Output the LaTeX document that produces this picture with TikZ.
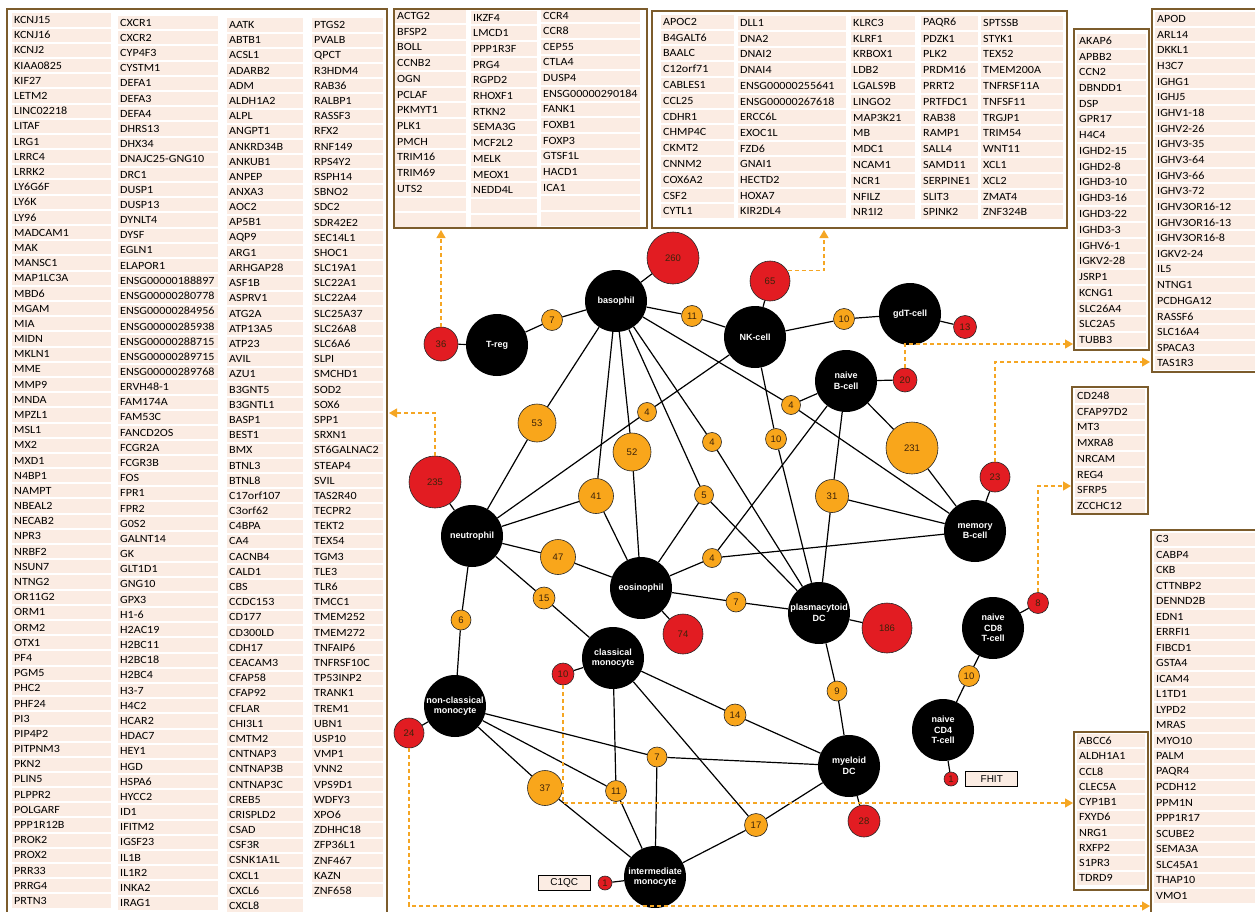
\documentclass[tikz,border=0pt]{standalone}
\usepackage{fontspec}
\setmainfont{Liberation Sans}
\newfontfamily\tabfont{Carlito}[FakeStretch=1.1]
\usetikzlibrary{arrows.meta,positioning}

\definecolor{hubOrange}{RGB}{249,166,27}
\definecolor{uniqRed}{RGB}{226,28,34}
\definecolor{cellPeach}{RGB}{251,236,227}
\definecolor{frameBrown}{RGB}{124,92,44}
\definecolor{linkOrange}{RGB}{245,166,35}
\definecolor{numDark}{RGB}{60,35,10}

% one column of gene cells: name, x left, x right, first y, row step, genes
\newcommand{\genecol}[6]{%
  \foreach \g [count=\i] in {#6} {
    \fill[cellPeach] (#2,{#4+(\i-1)*#5-#5/2+1}) rectangle (#3,{#4+(\i-1)*#5+#5/2-1});
    \node[genetxt] (#1-\i) at (#2,{#4+(\i-1)*#5}) {\g};
  }}

\begin{document}
\begin{tikzpicture}[x=1pt, y=-1pt,
  cellnode/.style={circle, fill=black, text=white, minimum size=62pt, inner sep=0pt,
    align=center, font=\bfseries\fontsize{9}{10.5}\selectfont},
  hubnode/.style={circle, fill=hubOrange, draw=black!85, line width=0.6pt, inner sep=0pt,
    text=numDark, font=\fontsize{9.5}{10}\selectfont},
  uninode/.style={circle, fill=uniqRed, draw=black!85, line width=0.6pt, inner sep=0pt,
    text=numDark, font=\fontsize{9.5}{10}\selectfont},
  edgeline/.style={line width=1.2pt},
  golist/.style={draw=linkOrange, line width=1.2pt, dash pattern=on 4pt off 3pt,
    -{Triangle[length=8pt,width=9pt]}},
  genetxt/.style={anchor=west, inner sep=2pt, font=\tabfont\fontsize{11}{12}\selectfont},
  tableframe/.style={draw=frameBrown, line width=1.8pt},
  genebox/.style={draw=black, line width=0.9pt, fill=cellPeach, minimum width=52pt,
    minimum height=15pt, inner sep=0pt, font=\fontsize{10}{11}\selectfont}]
  \useasboundingbox (0,0) rectangle (1255,912);
  \clip (0,0) rectangle (1255,912);

  % neutrophil genes
  \genecol{neuA}{12}{111}{20}{15.19}{KCNJ15,KCNJ16,KCNJ2,KIAA0825,KIF27,LETM2,LINC02218,LITAF,LRG1,LRRC4,LRRK2,LY6G6F,LY6K,LY96,MADCAM1,MAK,MANSC1,MAP1LC3A,MBD6,MGAM,MIA,MIDN,MKLN1,MME,MMP9,MNDA,MPZL1,MSL1,MX2,MXD1,N4BP1,NAMPT,NBEAL2,NECAB2,NPR3,NRBF2,NSUN7,NTNG2,OR11G2,ORM1,ORM2,OTX1,PF4,PGM5,PHC2,PHF24,PI3,PIP4P2,PITPNM3,PKN2,PLIN5,PLPPR2,POLGARF,PPP1R12B,PROK2,PROX2,PRR33,PRRG4,PRTN3}
  \genecol{neuB}{118}{218}{22.7}{15.18}{CXCR1,CXCR2,CYP4F3,CYSTM1,DEFA1,DEFA3,DEFA4,DHRS13,DHX34,DNAJC25-GNG10,DRC1,DUSP1,DUSP13,DYNLT4,DYSF,EGLN1,ELAPOR1,ENSG00000188897,ENSG00000280778,ENSG00000284956,ENSG00000285938,ENSG00000288715,ENSG00000289715,ENSG00000289768,ERVH48-1,FAM174A,FAM53C,FANCD2OS,FCGR2A,FCGR3B,FOS,FPR1,FPR2,G0S2,GALNT14,GK,GLT1D1,GNG10,GPX3,H1-6,H2AC19,H2BC11,H2BC18,H2BC4,H3-7,H4C2,HCAR2,HDAC7,HEY1,HGD,HSPA6,HYCC2,ID1,IFITM2,IGSF23,IL1B,IL1R2,INKA2,IRAG1}
  \genecol{neuC}{227}{303}{25}{15.19}{AATK,ABTB1,ACSL1,ADARB2,ADM,ALDH1A2,ALPL,ANGPT1,ANKRD34B,ANKUB1,ANPEP,ANXA3,AOC2,AP5B1,AQP9,ARG1,ARHGAP28,ASF1B,ASPRV1,ATG2A,ATP13A5,ATP23,AVIL,AZU1,B3GNT5,B3GNTL1,BASP1,BEST1,BMX,BTNL3,BTNL8,C17orf107,C3orf62,C4BPA,CA4,CACNB4,CALD1,CBS,CCDC153,CD177,CD300LD,CDH17,CEACAM3,CFAP58,CFAP92,CFLAR,CHI3L1,CMTM2,CNTNAP3,CNTNAP3B,CNTNAP3C,CREB5,CRISPLD2,CSAD,CSF3R,CSNK1A1L,CXCL1,CXCL6,CXCL8}
  \genecol{neuD}{312}{383}{25}{15.19}{PTGS2,PVALB,QPCT,R3HDM4,RAB36,RALBP1,RASSF3,RFX2,RNF149,RPS4Y2,RSPH14,SBNO2,SDC2,SDR42E2,SEC14L1,SHOC1,SLC19A1,SLC22A1,SLC22A4,SLC25A37,SLC26A8,SLC6A6,SLPI,SMCHD1,SOD2,SOX6,SPP1,SRXN1,ST6GALNAC2,STEAP4,SVIL,TAS2R40,TECPR2,TEKT2,TEX54,TGM3,TLE3,TLR6,TMCC1,TMEM252,TMEM272,TNFAIP6,TNFRSF10C,TP53INP2,TRANK1,TREM1,UBN1,USP10,VMP1,VNN2,VPS9D1,WDFY3,XPO6,ZDHHC18,ZFP36L1,ZNF467,KAZN,ZNF658}
  \draw[tableframe] (7,9) rectangle (387,930);

  % T-reg genes
  \genecol{tregA}{395}{466}{16}{15.7}{ACTG2,BFSP2,BOLL,CCNB2,OGN,PCLAF,PKMYT1,PLK1,PMCH,TRIM16,TRIM69,UTS2,~,~}
  \genecol{tregB}{471}{537}{17.5}{15.7}{IKZF4,LMCD1,PPP1R3F,PRG4,RGPD2,RHOXF1,RTKN2,SEMA3G,MCF2L2,MELK,MEOX1,NEDD4L,~,~}
  \genecol{tregC}{541}{640}{15.5}{15.65}{CCR4,CCR8,CEP55,CTLA4,DUSP4,ENSG00000290184,FANK1,FOXB1,FOXP3,GTSF1L,HACD1,ICA1,~,~}
  \draw[tableframe] (394,9) rectangle (647,228);

  % NK-cell genes
  \genecol{nkA}{661}{734}{21.7}{15.8}{APOC2,B4GALT6,BAALC,C12orf71,CABLES1,CCL25,CDHR1,CHMP4C,CKMT2,CNNM2,COX6A2,CSF2,CYTL1}
  \genecol{nkB}{738}{846}{23}{15.7}{DLL1,DNA2,DNAI2,DNAI4,ENSG00000255641,ENSG00000267618,ERCC6L,EXOC1L,FZD6,GNAI1,HECTD2,HOXA7,KIR2DL4}
  \genecol{nkC}{851}{915}{22.7}{15.8}{KLRC3,KLRF1,KRBOX1,LDB2,LGALS9B,LINGO2,MAP3K21,MB,MDC1,NCAM1,NCR1,NFILZ,NR1I2}
  \genecol{nkD}{921}{978}{22.7}{15.8}{PAQR6,PDZK1,PLK2,PRDM16,PRRT2,PRTFDC1,RAB38,RAMP1,SALL4,SAMD11,SERPINE1,SLIT3,SPINK2}
  \genecol{nkE}{981}{1063}{22.7}{15.8}{SPTSSB,STYK1,TEX52,TMEM200A,TNFRSF11A,TNFSF11,TRGJP1,TRIM54,WNT11,XCL1,XCL2,ZMAT4,ZNF324B}
  \draw[tableframe] (652,11) rectangle (1067,228);

  % B-cell, CD8 and monocyte genes
  \genecol{nbcA}{1077}{1146}{40.7}{15.75}{AKAP6,APBB2,CCN2,DBNDD1,DSP,GPR17,H4C4,IGHD2-15,IGHD2-8,IGHD3-10,IGHD3-16,IGHD3-22,IGHD3-3,IGHV6-1,IGKV2-28,JSRP1,KCNG1,SLC26A4,SLC2A5,TUBB3}
  \draw[tableframe] (1074,29) rectangle (1149,350);
  \genecol{mbcA}{1155}{1262}{19}{15.65}{APOD,ARL14,DKKL1,H3C7,IGHG1,IGHJ5,IGHV1-18,IGHV2-26,IGHV3-35,IGHV3-64,IGHV3-66,IGHV3-72,IGHV3OR16-12,IGHV3OR16-13,IGHV3OR16-8,IGKV2-24,IL5,NTNG1,PCDHGA12,RASSF6,SLC16A4,SPACA3,TAS1R3}
  \draw[tableframe] (1152,9) rectangle (1268,372);
  \genecol{cdeA}{1075}{1145}{396}{15.7}{CD248,CFAP97D2,MT3,MXRA8,NRCAM,REG4,SFRP5,ZCCHC12}
  \draw[tableframe] (1072,387) rectangle (1148,514);
  \genecol{ncmA}{1154}{1262}{539.3}{15.5}{C3,CABP4,CKB,CTTNBP2,DENND2B,EDN1,ERRFI1,FIBCD1,GSTA4,ICAM4,L1TD1,LYPD2,MRAS,MYO10,PALM,PAQR4,PCDH12,PPM1N,PPP1R17,SCUBE2,SEMA3A,SLC45A1,THAP10,VMO1}
  \draw[tableframe] (1151,530) rectangle (1268,925);
  \genecol{cmoA}{1077}{1145}{740.7}{15.3}{ABCC6,ALDH1A1,CCL8,CLEC5A,CYP1B1,FXYD6,NRG1,RXFP2,S1PR3,TDRD9}
  \draw[tableframe] (1074,732) rectangle (1148,890);

  % cell types
  \node[cellnode] (baso) at (616,301) {basophil};
  \node[cellnode] (treg) at (497,345) {T-reg};
  \node[cellnode] (nk) at (755,337) {NK-cell};
  \node[cellnode] (gdt) at (910,314) {gdT-cell};
  \node[cellnode] (nbc) at (846,381) {naive\\B-cell};
  \node[cellnode] (neu) at (472,536) {neutrophil};
  \node[cellnode] (eos) at (641,588) {eosinophil};
  \node[cellnode] (pdc) at (819,613) {plasmacytoid\\DC};
  \node[cellnode] (mbc) at (975,531) {memory\\B-cell};
  \node[cellnode] (cmo) at (613,658) {classical\\monocyte};
  \node[cellnode] (ncm) at (455,706) {non-classical\\monocyte};
  \node[cellnode] (mdc) at (849,766) {myeloid\\DC};
  \node[cellnode] (imo) at (655,877) {intermediate\\monocyte};
  \node[cellnode] (cd8) at (993,628) {naive\\CD8\\T-cell};
  \node[cellnode] (cd4) at (943,730) {naive\\CD4\\T-cell};

  % shared gene counts
  \node[hubnode, minimum size=21pt] (o7a) at (552,320) {7};
  \node[hubnode, minimum size=21pt] (o11a) at (692,316) {11};
  \node[hubnode, minimum size=21pt] (o10a) at (844,319) {10};
  \node[hubnode, minimum size=19pt] (o4a) at (647,412) {4};
  \node[hubnode, minimum size=38pt] (o53) at (537,423) {53};
  \node[hubnode, minimum size=38pt] (o52) at (632,452) {52};
  \node[hubnode, minimum size=19pt] (o4b) at (712,442) {4};
  \node[hubnode, minimum size=19pt] (o4c) at (791,405) {4};
  \node[hubnode, minimum size=21pt] (o10b) at (776,439) {10};
  \node[hubnode, minimum size=52pt] (o231) at (912,448) {231};
  \node[hubnode, minimum size=35pt] (o41) at (596,496) {41};
  \node[hubnode, minimum size=19pt] (o5) at (704,495) {5};
  \node[hubnode, minimum size=33pt] (o31) at (832,496) {31};
  \node[hubnode, minimum size=35pt] (o47) at (558,557) {47};
  \node[hubnode, minimum size=19pt] (o4d) at (712,558) {4};
  \node[hubnode, minimum size=22pt] (o15) at (544,598) {15};
  \node[hubnode, minimum size=20pt] (o6) at (461,620) {6};
  \node[hubnode, minimum size=20pt] (o7b) at (736,602) {7};
  \node[hubnode, minimum size=20pt] (o9) at (837,691) {9};
  \node[hubnode, minimum size=22pt] (o14) at (735,715) {14};
  \node[hubnode, minimum size=20pt] (o7c) at (657,757) {7};
  \node[hubnode, minimum size=35pt] (o37) at (545,788) {37};
  \node[hubnode, minimum size=21pt] (o11b) at (616,791) {11};
  \node[hubnode, minimum size=23pt] (o17) at (756,825) {17};
  \node[hubnode, minimum size=21pt] (o10c) at (969,676) {10};

  % unique gene counts
  \node[uninode, minimum size=34pt] (u36) at (441,344) {36};
  \node[uninode, minimum size=52pt] (u260) at (673,258) {260};
  \node[uninode, minimum size=40pt] (u65) at (770,281) {65};
  \node[uninode, minimum size=23pt] (u13) at (965,327) {13};
  \node[uninode, minimum size=24pt] (u20) at (905,380) {20};
  \node[uninode, minimum size=52pt] (u235) at (435,482) {235};
  \node[uninode, minimum size=30pt] (u23) at (995,477) {23};
  \node[uninode, minimum size=40pt] (u74) at (683,634) {74};
  \node[uninode, minimum size=50pt] (u186) at (887,628) {186};
  \node[uninode, minimum size=21pt] (u8) at (1038,603) {8};
  \node[uninode, minimum size=22pt] (u10) at (563,674) {10};
  \node[uninode, minimum size=30pt] (u24) at (409,733) {24};
  \node[uninode, minimum size=32pt] (u28) at (864,821) {28};
  \node[uninode, minimum size=14pt] (u1a) at (951,779) {1};
  \node[uninode, minimum size=14pt] (u1b) at (605,883) {1};
  \node[genebox, right=7pt of u1a] (fhit) {FHIT};
  \node[genebox, left=7pt of u1b] (c1qc) {C1QC};

  % Draw links
  \foreach \a/\b in {treg/u36, treg/o7a, o7a/baso, baso/u260, baso/o11a, o11a/nk,
      nk/u65, nk/o10a, o10a/gdt, gdt/u13, nbc/u20, baso/o53, o53/neu, nk/o4a, o4a/neu,
      baso/o52, o52/eos, baso/o4b, o4b/pdc, baso/o4c, o4c/nbc, o4c/mbc, nk/o10b, o10b/pdc,
      nbc/o231, o231/mbc, baso/o41, o41/neu, o41/eos, baso/o5, o5/eos, o5/pdc,
      nbc/o31, o31/mbc, o31/pdc, neu/u235, mbc/u23, neu/o47, o47/eos, nbc/o4d, o4d/mbc,
      o4d/eos, neu/o15, o15/cmo, neu/o6, o6/ncm, eos/o7b, o7b/pdc, eos/u74, pdc/u186,
      pdc/o9, o9/mdc, cmo/u10, cmo/o14, o14/mdc, ncm/o7c, o7c/mdc, o7c/imo, cmo/o11b,
      ncm/o11b, o11b/imo, cmo/o17, o17/mdc, o17/imo, ncm/o37, o37/imo, ncm/u24,
      mdc/u28, imo/u1b, cd8/u8, cd8/o10c, o10c/cd4, cd4/u1a} {
    \draw[edgeline] (\a) -- (\b);
  }

  % dashed pointers to the gene lists
  \coordinate (inTop) at (441,230);
  \coordinate (inTopR) at (824,230);
  \coordinate (inAkap) at (1073,344);
  \coordinate (inApod) at (1150,362);
  \coordinate (inCd) at (1071,486);
  \coordinate (inAbcc) at (1073,803);
  \coordinate (inCthree) at (1150,906);
  \coordinate (inNeu) at (389,413);
  \draw[golist] (u36.north) -- (inTop);
  \draw[golist] (u65.30) -| (inTopR);
  \draw[golist] (u20.north) |- (inAkap);
  \draw[golist] (u23.north) |- (inApod);
  \draw[golist] (u8.north) |- (inCd);
  \draw[golist] (u10.south) |- (inAbcc);
  \draw[golist] (u24.south) |- (inCthree);
  \draw[golist] (u235.north) |- (inNeu);
\end{tikzpicture}
\end{document}
